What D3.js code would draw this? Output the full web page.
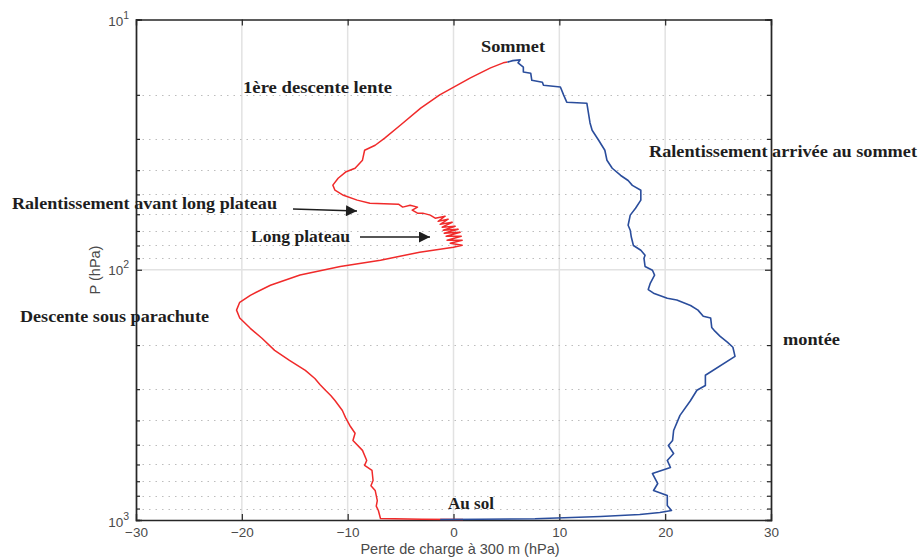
<!DOCTYPE html>
<html><head><meta charset="utf-8">
<script src="https://cdn.jsdelivr.net/npm/d3@7"></script>
<style>body{margin:0;background:#fff}svg{display:block}</style>
</head><body>
<script>
// ---- DATA ----
const xTicks = [-30, -20, -10, 0, 10, 20, 30];
const yMajor = [10, 100, 1000];
const yMinor = [20,30,40,50,60,70,80,90,200,300,400,500,600,700,800,900];
// ascent (montée): perte de charge (hPa), pression (hPa)
const ascentX = [-1.26,2.5,7.7,13.9,17.6,19.5,20.6,20.2,20.2,18.9,19.3,18.8,20.5,20.2,20.8,20.3,20.7,20.8,21.4,22.4,23.0,23.8,23.8,26.6,26.4,25.9,25.2,24.7,24.4,24.3,23.6,23.1,22.4,21.1,20.2,18.9,18.4,18.6,19.0,18.8,18.1,18.0,18.1,17.7,17.0,16.8,16.7,16.5,16.7,17.2,17.7,17.7,16.9,16.5,15.8,15.0,14.5,14.3,13.7,13.1,12.9,12.6,10.7,10.4,10.1,8.5,8.4,7.4,7.3,6.6,6.6,6.1,6.3,5.6,5.1];
const ascentP = [995,993,988,968,951,933,916,875,798,762,715,652,617,578,542,504,481,439,382,333,303,290,264,222,204,195,184.5,176,170,156,153.5,145,139,132,130,124,120,113,105,100.5,97,90,87.5,83.6,80,74,69.5,66.4,60.5,56.8,52.7,48.1,46,44,42,39.3,36.5,33.3,30.3,27.7,25.9,21.6,21.4,20.0,18.6,18.3,17.8,17.5,16.4,16.2,15.5,14.9,14.5,14.6,14.8];
// descent (descente): perte de charge (hPa), pression (hPa)
const descentX = [5.1,4.7,3.5,1.6,-1.3,-3.1,-5.0,-6.5,-7.4,-8.4,-8.6,-9.3,-10.2,-10.9,-11.4,-11.2,-10.4,-9.1,-7.9,-5.2,-4.8,-4.1,-3.4,-3.9,-3.4,-2.9,-2.2,-1.73,-0.79,-1.45,-0.50,-1.26,-0.12,-1.07,0.16,-0.97,0.44,-0.88,0.63,-0.69,0.73,-0.60,0.82,-0.31,0.82,0.0,-3.2,-6.9,-10.7,-14.5,-17.3,-19.2,-20.2,-20.5,-20.2,-19.2,-18.1,-16.9,-15.5,-14.0,-13.1,-12.6,-12.1,-11.6,-11.2,-10.5,-10.2,-9.8,-9.3,-9.5,-8.6,-8.2,-8.4,-7.7,-7.6,-7.8,-7.4,-7.2,-7.3,-7.1,-6.9,-3.0,0.9];
const descentP = [14.8,14.9,15.6,17.1,20.0,22.6,26.4,29.8,31.8,33.3,36.5,39.3,40.7,43.1,45.9,48.1,50.4,52.7,54.2,54.7,56.2,55.2,56.2,57.8,59.4,59.4,60.5,62.2,61.1,64.0,62.8,65.8,64.6,67.6,67.0,69.5,68.9,71.4,70.8,73.5,73.5,76.2,76.2,78.3,79.8,81.3,85.1,91.6,97,105,115.3,126.5,134.9,145,156,171.4,187.9,209.9,230.1,252.3,272,288,303,318,333,365,390,419,450,481,527,578,605,634,695,730,762,836,880,916,986,992,995];

const W = 919, H = 558;
const m = {left:136, right:919-771, top:19.5, bottom:558-520};
const svg = d3.select("body").append("svg").attr("width",W).attr("height",H);
const x = d3.scaleLinear().domain([-30,30]).range([m.left, W-m.right]);
const y = d3.scaleLog().domain([10,1000]).range([m.top, H-m.bottom]);
const x0 = m.left, x1 = W-m.right, y0 = m.top, y1 = H-m.bottom;

// grid
const g = svg.append("g");
g.selectAll(".vg").data(xTicks.slice(1,-1)).join("line")
  .attr("x1",d=>x(d)).attr("x2",d=>x(d)).attr("y1",y0).attr("y2",y1)
  .attr("stroke","#e2e2e2").attr("stroke-width",1.5);
g.selectAll(".hgm").data([100]).join("line")
  .attr("x1",x0).attr("x2",x1).attr("y1",d=>y(d)).attr("y2",d=>y(d))
  .attr("stroke","#e2e2e2").attr("stroke-width",1.5);
g.selectAll(".hg").data(yMinor).join("line")
  .attr("x1",x0).attr("x2",x1).attr("y1",d=>Math.round(y(d))+0.5).attr("y2",d=>Math.round(y(d))+0.5)
  .attr("stroke","#bdbdbd").attr("stroke-width",1).attr("stroke-dasharray","1.5,5");

// axes with d3 axes (ticks inward)
const axC = "#262626";
const fontTick = "'Liberation Sans', Helvetica, Arial, sans-serif";
const xb = svg.append("g").attr("transform",`translate(0,${y1})`)
  .call(d3.axisBottom(x).tickValues(xTicks).tickSize(-6).tickPadding(7).tickFormat(d3.format("d")));
const xt = svg.append("g").attr("transform",`translate(0,${y0})`)
  .call(d3.axisTop(x).tickValues(xTicks).tickSize(-6).tickFormat(""));
const yl = svg.append("g").attr("transform",`translate(${x0},0)`)
  .call(d3.axisLeft(y).tickValues(yMinor).tickSize(-4).tickFormat(""));
const yl2 = svg.append("g").attr("transform",`translate(${x0},0)`)
  .call(d3.axisLeft(y).tickValues(yMajor).tickSize(-6).tickFormat(""));
const yr = svg.append("g").attr("transform",`translate(${x1},0)`)
  .call(d3.axisRight(y).tickValues(yMinor).tickSize(-4).tickFormat(""));
const yr2 = svg.append("g").attr("transform",`translate(${x1},0)`)
  .call(d3.axisRight(y).tickValues(yMajor).tickSize(-6).tickFormat(""));
[xb,xt,yl,yl2,yr,yr2].forEach(a=>{
  a.selectAll("path").attr("stroke",axC).attr("stroke-width",1.4);
  a.selectAll("line").attr("stroke",axC).attr("stroke-width",1.2);
  a.selectAll("text").attr("fill","#4a4a4a").attr("font-family",fontTick).attr("font-size",13.5);
});
xb.selectAll(".tick").filter(d=>d===-30||d===30).select("line").remove();
xt.selectAll(".tick").filter(d=>d===-30||d===30).select("line").remove();
yl2.selectAll(".tick").filter(d=>d===10||d===1000).select("line").remove();
yr2.selectAll(".tick").filter(d=>d===10||d===1000).select("line").remove();

// y tick labels 10^n
yMajor.forEach(v=>{
  const t = svg.append("text").attr("x",x0-7).attr("y",y(v)+(v===10?6:v===1000?7:5))
    .attr("text-anchor","end").attr("fill","#4a4a4a").attr("font-family",fontTick).attr("font-size",13.5);
  t.append("tspan").text("10");
  t.append("tspan").attr("dy",-7).attr("font-size",10.5).text(String(Math.round(Math.log10(v))));
});

// axis labels
svg.append("text").attr("x",460).attr("y",554).attr("text-anchor","middle")
  .attr("fill","#4a4a4a").attr("font-family",fontTick).attr("font-size",14.5)
  .text("Perte de charge à 300 m  (hPa)");
svg.append("text").attr("transform",`translate(100,270) rotate(-90)`).attr("text-anchor","middle")
  .attr("fill","#4a4a4a").attr("font-family",fontTick).attr("font-size",14.5)
  .text("P (hPa)");

// curves
const line = d3.line().x(d=>x(d[0])).y(d=>y(d[1])).curve(d3.curveLinear);
const asc = ascentX.map((v,i)=>[v,ascentP[i]]);
const des = descentX.map((v,i)=>[v,descentP[i]]);
svg.append("path").datum(des).attr("d",line).attr("fill","none")
  .attr("stroke","#f02a2a").attr("stroke-width",1.5).attr("stroke-linejoin","round");
svg.append("path").datum(asc).attr("d",line).attr("fill","none")
  .attr("stroke","#2a4d9c").attr("stroke-width",1.6).attr("stroke-linejoin","round");

// annotations
const fontAnn = "'Liberation Serif', 'DejaVu Serif', serif";
const ann = [
  {t:"Sommet", x:481, y:52, w:64},
  {t:"1ère descente lente", x:243, y:93, w:149},
  {t:"Ralentissement arrivée au sommet", x:649, y:157, w:268},
  {t:"Ralentissement avant long plateau", x:12, y:209, w:265},
  {t:"Long plateau", x:251, y:242, w:99},
  {t:"Descente sous parachute", x:20, y:322, w:189},
  {t:"montée", x:783, y:345, w:57},
  {t:"Au sol", x:448, y:509, w:46}
];
svg.selectAll(".ann").data(ann).join("text")
  .attr("x",d=>d.x).attr("y",d=>d.y).attr("textLength",d=>d.w).attr("lengthAdjust","spacingAndGlyphs")
  .attr("font-family",fontAnn).attr("font-weight","bold").attr("font-size",17).attr("fill","#1e1e1e")
  .text(d=>d.t);

// arrows
const defs = svg.append("defs");
defs.append("marker").attr("id","ah").attr("viewBox","0 0 10 10").attr("refX",10).attr("refY",5)
  .attr("markerWidth",13).attr("markerHeight",11).attr("markerUnits","userSpaceOnUse").attr("orient","auto")
  .append("path").attr("d","M0,0 L10,5 L0,10 Z").attr("fill","#1e1e1e");
const arrows = [{x1:293,y1:209,x2:357,y2:211},{x1:360,y1:237,x2:430,y2:237}];
svg.selectAll(".arr").data(arrows).join("line")
  .attr("x1",d=>d.x1).attr("y1",d=>d.y1).attr("x2",d=>d.x2).attr("y2",d=>d.y2)
  .attr("stroke","#1e1e1e").attr("stroke-width",1.5).attr("marker-end","url(#ah)");
</script>
</body></html>
